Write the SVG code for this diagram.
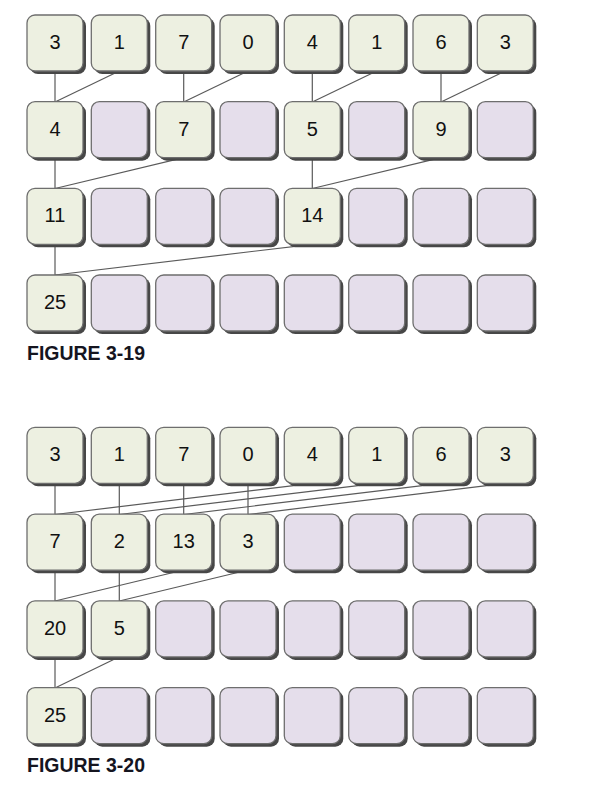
<svg xmlns="http://www.w3.org/2000/svg" width="598" height="793" viewBox="0 0 598 793">
<defs>
<style>
.sh{fill:#474747}
.g{fill:#edf0e1;stroke:#6e6e6e;stroke-width:1.3}
.p{fill:#e5deeb;stroke:#6e6e6e;stroke-width:1.3}
.t{font-family:"Liberation Sans",Arial,sans-serif;font-size:20px;fill:#111;text-anchor:middle}
.cap{font-family:"Liberation Sans",Arial,sans-serif;font-size:20px;font-weight:bold;fill:#15151f}
.c line{stroke:#5a5a5a;stroke-width:1.2}
</style>
<g id="box">
<rect class="sh" x="3" y="3" width="56" height="56" rx="8"/>
</g>
</defs>
<rect width="598" height="793" fill="#fff"/>

<!-- Figure 3-19 connectors -->
<g id="connectors-319" class="c">
<line x1="55" y1="60" x2="55" y2="102"/>
<line x1="119.3" y1="71" x2="55" y2="102"/>
<line x1="183.7" y1="60" x2="183.7" y2="102"/>
<line x1="248" y1="71" x2="183.7" y2="102"/>
<line x1="312.3" y1="60" x2="312.3" y2="102"/>
<line x1="376.7" y1="71" x2="312.3" y2="102"/>
<line x1="441" y1="60" x2="441" y2="102"/>
<line x1="505.3" y1="71" x2="441" y2="102"/>
<line x1="55" y1="150" x2="55" y2="188.5"/>
<line x1="183.7" y1="157.7" x2="55" y2="188.5"/>
<line x1="312.3" y1="150" x2="312.3" y2="188.5"/>
<line x1="441" y1="157.7" x2="312.3" y2="188.5"/>
<line x1="55" y1="240" x2="55" y2="275"/>
<line x1="312.3" y1="244.3" x2="55" y2="275"/>
</g>

<!-- Figure 3-20 connectors -->
<g id="connectors-320" class="c">
<line x1="55" y1="470" x2="55" y2="514.5"/>
<line x1="119.3" y1="470" x2="119.3" y2="514.5"/>
<line x1="183.7" y1="470" x2="183.7" y2="514.5"/>
<line x1="248" y1="470" x2="248" y2="514.5"/>
<line x1="312.3" y1="483.3" x2="55" y2="514.5"/>
<line x1="376.7" y1="483.3" x2="119.3" y2="514.5"/>
<line x1="441" y1="483.3" x2="183.7" y2="514.5"/>
<line x1="505.3" y1="483.3" x2="248" y2="514.5"/>
<line x1="55" y1="560" x2="55" y2="601"/>
<line x1="119.3" y1="560" x2="119.3" y2="601"/>
<line x1="183.7" y1="570" x2="55" y2="601"/>
<line x1="248" y1="570" x2="119.3" y2="601"/>
<line x1="55" y1="650" x2="55" y2="688"/>
<line x1="119.3" y1="656.7" x2="55" y2="688"/>
</g>

<!-- Figure 3-19 nodes -->
<g id="f319-r1">
<g id="a1-0"><use href="#box" x="27" y="15"/><rect class="g" x="27" y="15" width="56" height="56" rx="8"/><text class="t" x="55" y="49">3</text></g>
<g id="a1-1"><use href="#box" x="91.3" y="15"/><rect class="g" x="91.3" y="15" width="56" height="56" rx="8"/><text class="t" x="119.3" y="49">1</text></g>
<g id="a1-2"><use href="#box" x="155.7" y="15"/><rect class="g" x="155.7" y="15" width="56" height="56" rx="8"/><text class="t" x="183.7" y="49">7</text></g>
<g id="a1-3"><use href="#box" x="220" y="15"/><rect class="g" x="220" y="15" width="56" height="56" rx="8"/><text class="t" x="248" y="49">0</text></g>
<g id="a1-4"><use href="#box" x="284.3" y="15"/><rect class="g" x="284.3" y="15" width="56" height="56" rx="8"/><text class="t" x="312.3" y="49">4</text></g>
<g id="a1-5"><use href="#box" x="348.7" y="15"/><rect class="g" x="348.7" y="15" width="56" height="56" rx="8"/><text class="t" x="376.7" y="49">1</text></g>
<g id="a1-6"><use href="#box" x="413" y="15"/><rect class="g" x="413" y="15" width="56" height="56" rx="8"/><text class="t" x="441" y="49">6</text></g>
<g id="a1-7"><use href="#box" x="477.3" y="15"/><rect class="g" x="477.3" y="15" width="56" height="56" rx="8"/><text class="t" x="505.3" y="49">3</text></g>
</g>
<g id="f319-r2">
<g id="a2-0"><use href="#box" x="27" y="101.7"/><rect class="g" x="27" y="101.7" width="56" height="56" rx="8"/><text class="t" x="55" y="135.7">4</text></g>
<g id="a2-1"><use href="#box" x="91.3" y="101.7"/><rect class="p" x="91.3" y="101.7" width="56" height="56" rx="8"/></g>
<g id="a2-2"><use href="#box" x="155.7" y="101.7"/><rect class="g" x="155.7" y="101.7" width="56" height="56" rx="8"/><text class="t" x="183.7" y="135.7">7</text></g>
<g id="a2-3"><use href="#box" x="220" y="101.7"/><rect class="p" x="220" y="101.7" width="56" height="56" rx="8"/></g>
<g id="a2-4"><use href="#box" x="284.3" y="101.7"/><rect class="g" x="284.3" y="101.7" width="56" height="56" rx="8"/><text class="t" x="312.3" y="135.7">5</text></g>
<g id="a2-5"><use href="#box" x="348.7" y="101.7"/><rect class="p" x="348.7" y="101.7" width="56" height="56" rx="8"/></g>
<g id="a2-6"><use href="#box" x="413" y="101.7"/><rect class="g" x="413" y="101.7" width="56" height="56" rx="8"/><text class="t" x="441" y="135.7">9</text></g>
<g id="a2-7"><use href="#box" x="477.3" y="101.7"/><rect class="p" x="477.3" y="101.7" width="56" height="56" rx="8"/></g>
</g>
<g id="f319-r3">
<g id="a3-0"><use href="#box" x="27" y="188.3"/><rect class="g" x="27" y="188.3" width="56" height="56" rx="8"/><text class="t" x="55" y="222.3">11</text></g>
<g id="a3-1"><use href="#box" x="91.3" y="188.3"/><rect class="p" x="91.3" y="188.3" width="56" height="56" rx="8"/></g>
<g id="a3-2"><use href="#box" x="155.7" y="188.3"/><rect class="p" x="155.7" y="188.3" width="56" height="56" rx="8"/></g>
<g id="a3-3"><use href="#box" x="220" y="188.3"/><rect class="p" x="220" y="188.3" width="56" height="56" rx="8"/></g>
<g id="a3-4"><use href="#box" x="284.3" y="188.3"/><rect class="g" x="284.3" y="188.3" width="56" height="56" rx="8"/><text class="t" x="312.3" y="222.3">14</text></g>
<g id="a3-5"><use href="#box" x="348.7" y="188.3"/><rect class="p" x="348.7" y="188.3" width="56" height="56" rx="8"/></g>
<g id="a3-6"><use href="#box" x="413" y="188.3"/><rect class="p" x="413" y="188.3" width="56" height="56" rx="8"/></g>
<g id="a3-7"><use href="#box" x="477.3" y="188.3"/><rect class="p" x="477.3" y="188.3" width="56" height="56" rx="8"/></g>
</g>
<g id="f319-r4">
<g id="a4-0"><use href="#box" x="27" y="275"/><rect class="g" x="27" y="275" width="56" height="56" rx="8"/><text class="t" x="55" y="309">25</text></g>
<g id="a4-1"><use href="#box" x="91.3" y="275"/><rect class="p" x="91.3" y="275" width="56" height="56" rx="8"/></g>
<g id="a4-2"><use href="#box" x="155.7" y="275"/><rect class="p" x="155.7" y="275" width="56" height="56" rx="8"/></g>
<g id="a4-3"><use href="#box" x="220" y="275"/><rect class="p" x="220" y="275" width="56" height="56" rx="8"/></g>
<g id="a4-4"><use href="#box" x="284.3" y="275"/><rect class="p" x="284.3" y="275" width="56" height="56" rx="8"/></g>
<g id="a4-5"><use href="#box" x="348.7" y="275"/><rect class="p" x="348.7" y="275" width="56" height="56" rx="8"/></g>
<g id="a4-6"><use href="#box" x="413" y="275"/><rect class="p" x="413" y="275" width="56" height="56" rx="8"/></g>
<g id="a4-7"><use href="#box" x="477.3" y="275"/><rect class="p" x="477.3" y="275" width="56" height="56" rx="8"/></g>
</g>
<text id="cap-319" class="cap" x="27" y="360" textLength="118" lengthAdjust="spacingAndGlyphs">FIGURE 3-19</text>

<!-- Figure 3-20 nodes -->
<g id="f320-r1">
<g id="b1-0"><use href="#box" x="27" y="427.3"/><rect class="g" x="27" y="427.3" width="56" height="56" rx="8"/><text class="t" x="55" y="461.3">3</text></g>
<g id="b1-1"><use href="#box" x="91.3" y="427.3"/><rect class="g" x="91.3" y="427.3" width="56" height="56" rx="8"/><text class="t" x="119.3" y="461.3">1</text></g>
<g id="b1-2"><use href="#box" x="155.7" y="427.3"/><rect class="g" x="155.7" y="427.3" width="56" height="56" rx="8"/><text class="t" x="183.7" y="461.3">7</text></g>
<g id="b1-3"><use href="#box" x="220" y="427.3"/><rect class="g" x="220" y="427.3" width="56" height="56" rx="8"/><text class="t" x="248" y="461.3">0</text></g>
<g id="b1-4"><use href="#box" x="284.3" y="427.3"/><rect class="g" x="284.3" y="427.3" width="56" height="56" rx="8"/><text class="t" x="312.3" y="461.3">4</text></g>
<g id="b1-5"><use href="#box" x="348.7" y="427.3"/><rect class="g" x="348.7" y="427.3" width="56" height="56" rx="8"/><text class="t" x="376.7" y="461.3">1</text></g>
<g id="b1-6"><use href="#box" x="413" y="427.3"/><rect class="g" x="413" y="427.3" width="56" height="56" rx="8"/><text class="t" x="441" y="461.3">6</text></g>
<g id="b1-7"><use href="#box" x="477.3" y="427.3"/><rect class="g" x="477.3" y="427.3" width="56" height="56" rx="8"/><text class="t" x="505.3" y="461.3">3</text></g>
</g>
<g id="f320-r2">
<g id="b2-0"><use href="#box" x="27" y="514.2"/><rect class="g" x="27" y="514.2" width="56" height="56" rx="8"/><text class="t" x="55" y="548.2">7</text></g>
<g id="b2-1"><use href="#box" x="91.3" y="514.2"/><rect class="g" x="91.3" y="514.2" width="56" height="56" rx="8"/><text class="t" x="119.3" y="548.2">2</text></g>
<g id="b2-2"><use href="#box" x="155.7" y="514.2"/><rect class="g" x="155.7" y="514.2" width="56" height="56" rx="8"/><text class="t" x="183.7" y="548.2">13</text></g>
<g id="b2-3"><use href="#box" x="220" y="514.2"/><rect class="g" x="220" y="514.2" width="56" height="56" rx="8"/><text class="t" x="248" y="548.2">3</text></g>
<g id="b2-4"><use href="#box" x="284.3" y="514.2"/><rect class="p" x="284.3" y="514.2" width="56" height="56" rx="8"/></g>
<g id="b2-5"><use href="#box" x="348.7" y="514.2"/><rect class="p" x="348.7" y="514.2" width="56" height="56" rx="8"/></g>
<g id="b2-6"><use href="#box" x="413" y="514.2"/><rect class="p" x="413" y="514.2" width="56" height="56" rx="8"/></g>
<g id="b2-7"><use href="#box" x="477.3" y="514.2"/><rect class="p" x="477.3" y="514.2" width="56" height="56" rx="8"/></g>
</g>
<g id="f320-r3">
<g id="b3-0"><use href="#box" x="27" y="600.9"/><rect class="g" x="27" y="600.9" width="56" height="56" rx="8"/><text class="t" x="55" y="634.9">20</text></g>
<g id="b3-1"><use href="#box" x="91.3" y="600.9"/><rect class="g" x="91.3" y="600.9" width="56" height="56" rx="8"/><text class="t" x="119.3" y="634.9">5</text></g>
<g id="b3-2"><use href="#box" x="155.7" y="600.9"/><rect class="p" x="155.7" y="600.9" width="56" height="56" rx="8"/></g>
<g id="b3-3"><use href="#box" x="220" y="600.9"/><rect class="p" x="220" y="600.9" width="56" height="56" rx="8"/></g>
<g id="b3-4"><use href="#box" x="284.3" y="600.9"/><rect class="p" x="284.3" y="600.9" width="56" height="56" rx="8"/></g>
<g id="b3-5"><use href="#box" x="348.7" y="600.9"/><rect class="p" x="348.7" y="600.9" width="56" height="56" rx="8"/></g>
<g id="b3-6"><use href="#box" x="413" y="600.9"/><rect class="p" x="413" y="600.9" width="56" height="56" rx="8"/></g>
<g id="b3-7"><use href="#box" x="477.3" y="600.9"/><rect class="p" x="477.3" y="600.9" width="56" height="56" rx="8"/></g>
</g>
<g id="f320-r4">
<g id="b4-0"><use href="#box" x="27" y="687.7"/><rect class="g" x="27" y="687.7" width="56" height="56" rx="8"/><text class="t" x="55" y="721.7">25</text></g>
<g id="b4-1"><use href="#box" x="91.3" y="687.7"/><rect class="p" x="91.3" y="687.7" width="56" height="56" rx="8"/></g>
<g id="b4-2"><use href="#box" x="155.7" y="687.7"/><rect class="p" x="155.7" y="687.7" width="56" height="56" rx="8"/></g>
<g id="b4-3"><use href="#box" x="220" y="687.7"/><rect class="p" x="220" y="687.7" width="56" height="56" rx="8"/></g>
<g id="b4-4"><use href="#box" x="284.3" y="687.7"/><rect class="p" x="284.3" y="687.7" width="56" height="56" rx="8"/></g>
<g id="b4-5"><use href="#box" x="348.7" y="687.7"/><rect class="p" x="348.7" y="687.7" width="56" height="56" rx="8"/></g>
<g id="b4-6"><use href="#box" x="413" y="687.7"/><rect class="p" x="413" y="687.7" width="56" height="56" rx="8"/></g>
<g id="b4-7"><use href="#box" x="477.3" y="687.7"/><rect class="p" x="477.3" y="687.7" width="56" height="56" rx="8"/></g>
</g>
<text id="cap-320" class="cap" x="27" y="772" textLength="118" lengthAdjust="spacingAndGlyphs">FIGURE 3-20</text>
</svg>
